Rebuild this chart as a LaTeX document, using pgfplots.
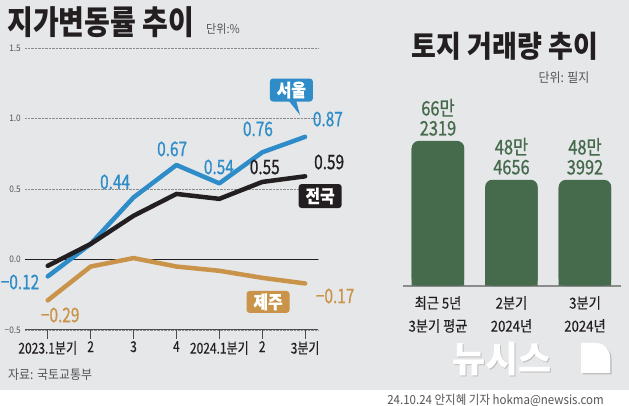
\documentclass[border=0pt]{standalone}
\usepackage{pgfplots}
\pgfplotsset{compat=1.18}
\usepackage{fontspec}
\setmainfont{Noto Sans CJK KR}
\newfontfamily\titlef[FakeStretch=0.85]{Noto Sans CJK KR}
\newfontfamily\titlefb[FakeStretch=0.9]{Noto Sans CJK KR}
\newfontfamily\condf[FakeStretch=0.77, FakeBold=0.8]{Noto Sans CJK KR}
\newfontfamily\barf[FakeStretch=0.82, FakeBold=0.8]{Noto Sans CJK KR}
\newfontfamily\tickf[FakeStretch=0.8, FakeBold=0.2]{Noto Sans CJK KR}
\newfontfamily\catf[FakeStretch=0.88, FakeBold=0.2]{Noto Sans CJK KR}
\newfontfamily\smallf[FakeStretch=0.92]{Noto Sans CJK KR}
\definecolor{bg}{HTML}{E6E7E9}
\definecolor{seoul}{HTML}{2E8DC8}
\definecolor{nat}{HTML}{231F20}
\definecolor{jeju}{HTML}{C9944A}
\definecolor{barg}{HTML}{466A4C}
\definecolor{txtgray}{HTML}{555555}
\pgfplotstableread{
x seoul nat jeju
0 -0.12 -0.045 -0.29
1 0.11 0.11 -0.05
2 0.44 0.31 0.01
3 0.67 0.465 -0.05
4 0.54 0.43 -0.08
5 0.76 0.55 -0.13
6 0.87 0.59 -0.17
}\landrate
\pgfplotstableread{
x val cover
0 662319 630000
1 484656 452000
2 483992 452000
}\trade
\begin{document}
\begin{tikzpicture}[x=1pt,y=1pt]
\useasboundingbox (0,0) rectangle (629,406);
\fill[bg] (0,16) rectangle (629,406);
\fill[white] (0,0) rectangle (629,16);
% titles
\node[anchor=west, inner sep=0pt, font=\titlef\bfseries\fontsize{33}{33}\selectfont, text=nat] at (7,384) {지가변동률 추이};
\node[anchor=west, inner sep=0pt, font=\smallf\fontsize{12}{12}\selectfont, text=txtgray] at (206,377) {단위:\%};
\node[inner sep=0pt, font=\titlefb\bfseries\fontsize{30}{30}\selectfont, text=nat] at (505,360) {토지 거래량 추이};
\node[inner sep=0pt, font=\smallf\fontsize{13}{13}\selectfont, text=txtgray] at (564,328) {단위: 필지};
% left chart
\begin{axis}[at={(25pt,76pt)}, anchor=south west, scale only axis,
  width=293pt, height=282pt,
  xmin=-0.53, xmax=6.3, ymin=-0.5, ymax=1.5, clip=false,
  axis x line*=bottom, axis y line*=left,
  y axis line style={draw=none},
  x axis line style={draw=black!70, line width=1pt, -},
  xtick={0,...,6},
  xticklabels={2023.1분기,2,3,4,2024.1분기,2,3분기},
  ytick={-0.5,0,0.5,1,1.5},
  yticklabels={−0.5,0.0,0.5,1.0,1.5},
  major tick length=9pt, tick align=outside,
  xtick style={draw=black!70, line width=0.8pt},
  ytick style={draw=none},
  ymajorgrids, grid style={densely dotted, draw=black!45, line width=0.6pt},
  xticklabel style={font=\tickf\fontsize{15}{15}\selectfont, text=nat, inner sep=0pt, yshift=-2pt},
  yticklabel style={font=\smallf\fontsize{9}{9}\selectfont, text=txtgray, inner sep=0pt, xshift=5pt},
]
\draw[nat, line width=0.8pt] (axis cs:-0.53,0) -- (axis cs:6.3,0);
\addplot[jeju, line width=4.5pt, line join=round, line cap=round] table[x=x,y=jeju] {\landrate};
\addplot[seoul, line width=4.5pt, line join=round, line cap=round] table[x=x,y=seoul] {\landrate};
\addplot[nat, line width=4.5pt, line join=round, line cap=round] table[x=x,y=nat] {\landrate};
% value labels
\begin{scope}[every node/.style={inner sep=0pt, font=\condf\fontsize{20}{20}\selectfont}]
\node[text=seoul] at (axis cs:-0.646,-0.16) {−0.12};
\node[text=seoul] at (axis cs:1.57,0.55) {0.44};
\node[text=seoul] at (axis cs:2.90,0.784) {0.67};
\node[text=seoul] at (axis cs:3.99,0.656) {0.54};
\node[text=seoul] at (axis cs:4.90,0.926) {0.76};
\node[text=seoul] at (axis cs:6.53,0.996) {0.87};
\node[text=nat] at (axis cs:5.06,0.656) {0.55};
\node[text=nat] at (axis cs:6.56,0.691) {0.59};
\node[text=jeju] at (axis cs:0.29,-0.394) {−0.29};
\node[text=jeju] at (axis cs:6.70,-0.259) {−0.17};
\end{scope}
% series tags
\fill[seoul] (axis cs:5.58,1.14) -- (axis cs:5.78,1.14) -- (axis cs:5.88,1.025) -- cycle;
\begin{scope}[every node/.style={inner sep=0pt, rounded corners=3pt, text=white, minimum width=43pt, font=\catf\bfseries\fontsize{18}{18}\selectfont}]
\node[fill=seoul, minimum height=23pt] at (axis cs:5.68,1.202) {서울};
\node[fill=nat, minimum height=24pt] at (axis cs:6.35,0.45) {전국};
\node[fill=jeju, minimum height=22pt] at (axis cs:5.135,-0.301) {제주};
\end{scope}
\end{axis}
% right chart
\begin{axis}[at={(403pt,120.3pt)}, anchor=south west, scale only axis,
  width=218pt, height=153pt,
  xmin=-0.476, xmax=2.49, ymin=0, ymax=700000, clip=false,
  ybar, bar width=52.5pt,
  axis x line*=bottom, axis y line=none,
  x axis line style={draw=black!45, line width=2pt, -},
  xtick={0,1,2},
  xticklabels={{최근 5년\\3분기 평균},{2분기\\2024년},{3분기\\2024년}},
  xtick style={draw=none},
  xticklabel style={align=center, font=\catf\fontsize{15}{23}\selectfont, text=nat, inner sep=0pt, anchor=north, yshift=-6pt},
]
\addplot[fill=barg, draw=none, rounded corners=7pt, bar shift=0pt] table[x=x,y=val] {\trade};
\addplot[fill=barg, draw=none, bar shift=0pt] table[x=x,y=cover] {\trade};
\begin{scope}[every node/.style={inner sep=0pt, anchor=south, align=center, text=barg, font=\barf\fontsize{20}{20}\selectfont}]
\node at (axis cs:0,662319) [yshift=5pt] {66만\\2319};
\node at (axis cs:1,484656) [yshift=5pt] {48만\\4656};
\node at (axis cs:2,483992) [yshift=5pt] {48만\\3992};
\end{scope}
\end{axis}
% footer
\node[anchor=west, inner sep=0pt, font=\smallf\fontsize{13}{13}\selectfont, text=txtgray] at (8,31) {자료: 국토교통부};
\node[anchor=east, inner sep=0pt, font=\smallf\fontsize{12.5}{12.5}\selectfont, text=txtgray] at (604,6) {24.10.24 안지혜 기자 hokma@newsis.com};
% logo
\begin{scope}[shift={(1.5,-1.5)}]
\node[anchor=west, inner sep=0pt, font=\bfseries\fontsize{36}{36}\selectfont, text=black!25] at (452,47) {뉴시스};
\fill[black!25] (581,33) -- (610,33) -- (610,49) arc[start angle=0, end angle=90, radius=14] -- (581,63) -- cycle;
\end{scope}
\node[anchor=west, inner sep=0pt, font=\bfseries\fontsize{36}{36}\selectfont, text=white] at (452,47) {뉴시스};
\fill[white] (581,33) -- (610,33) -- (610,49) arc[start angle=0, end angle=90, radius=14] -- (581,63) -- cycle;
\end{tikzpicture}
\end{document}
